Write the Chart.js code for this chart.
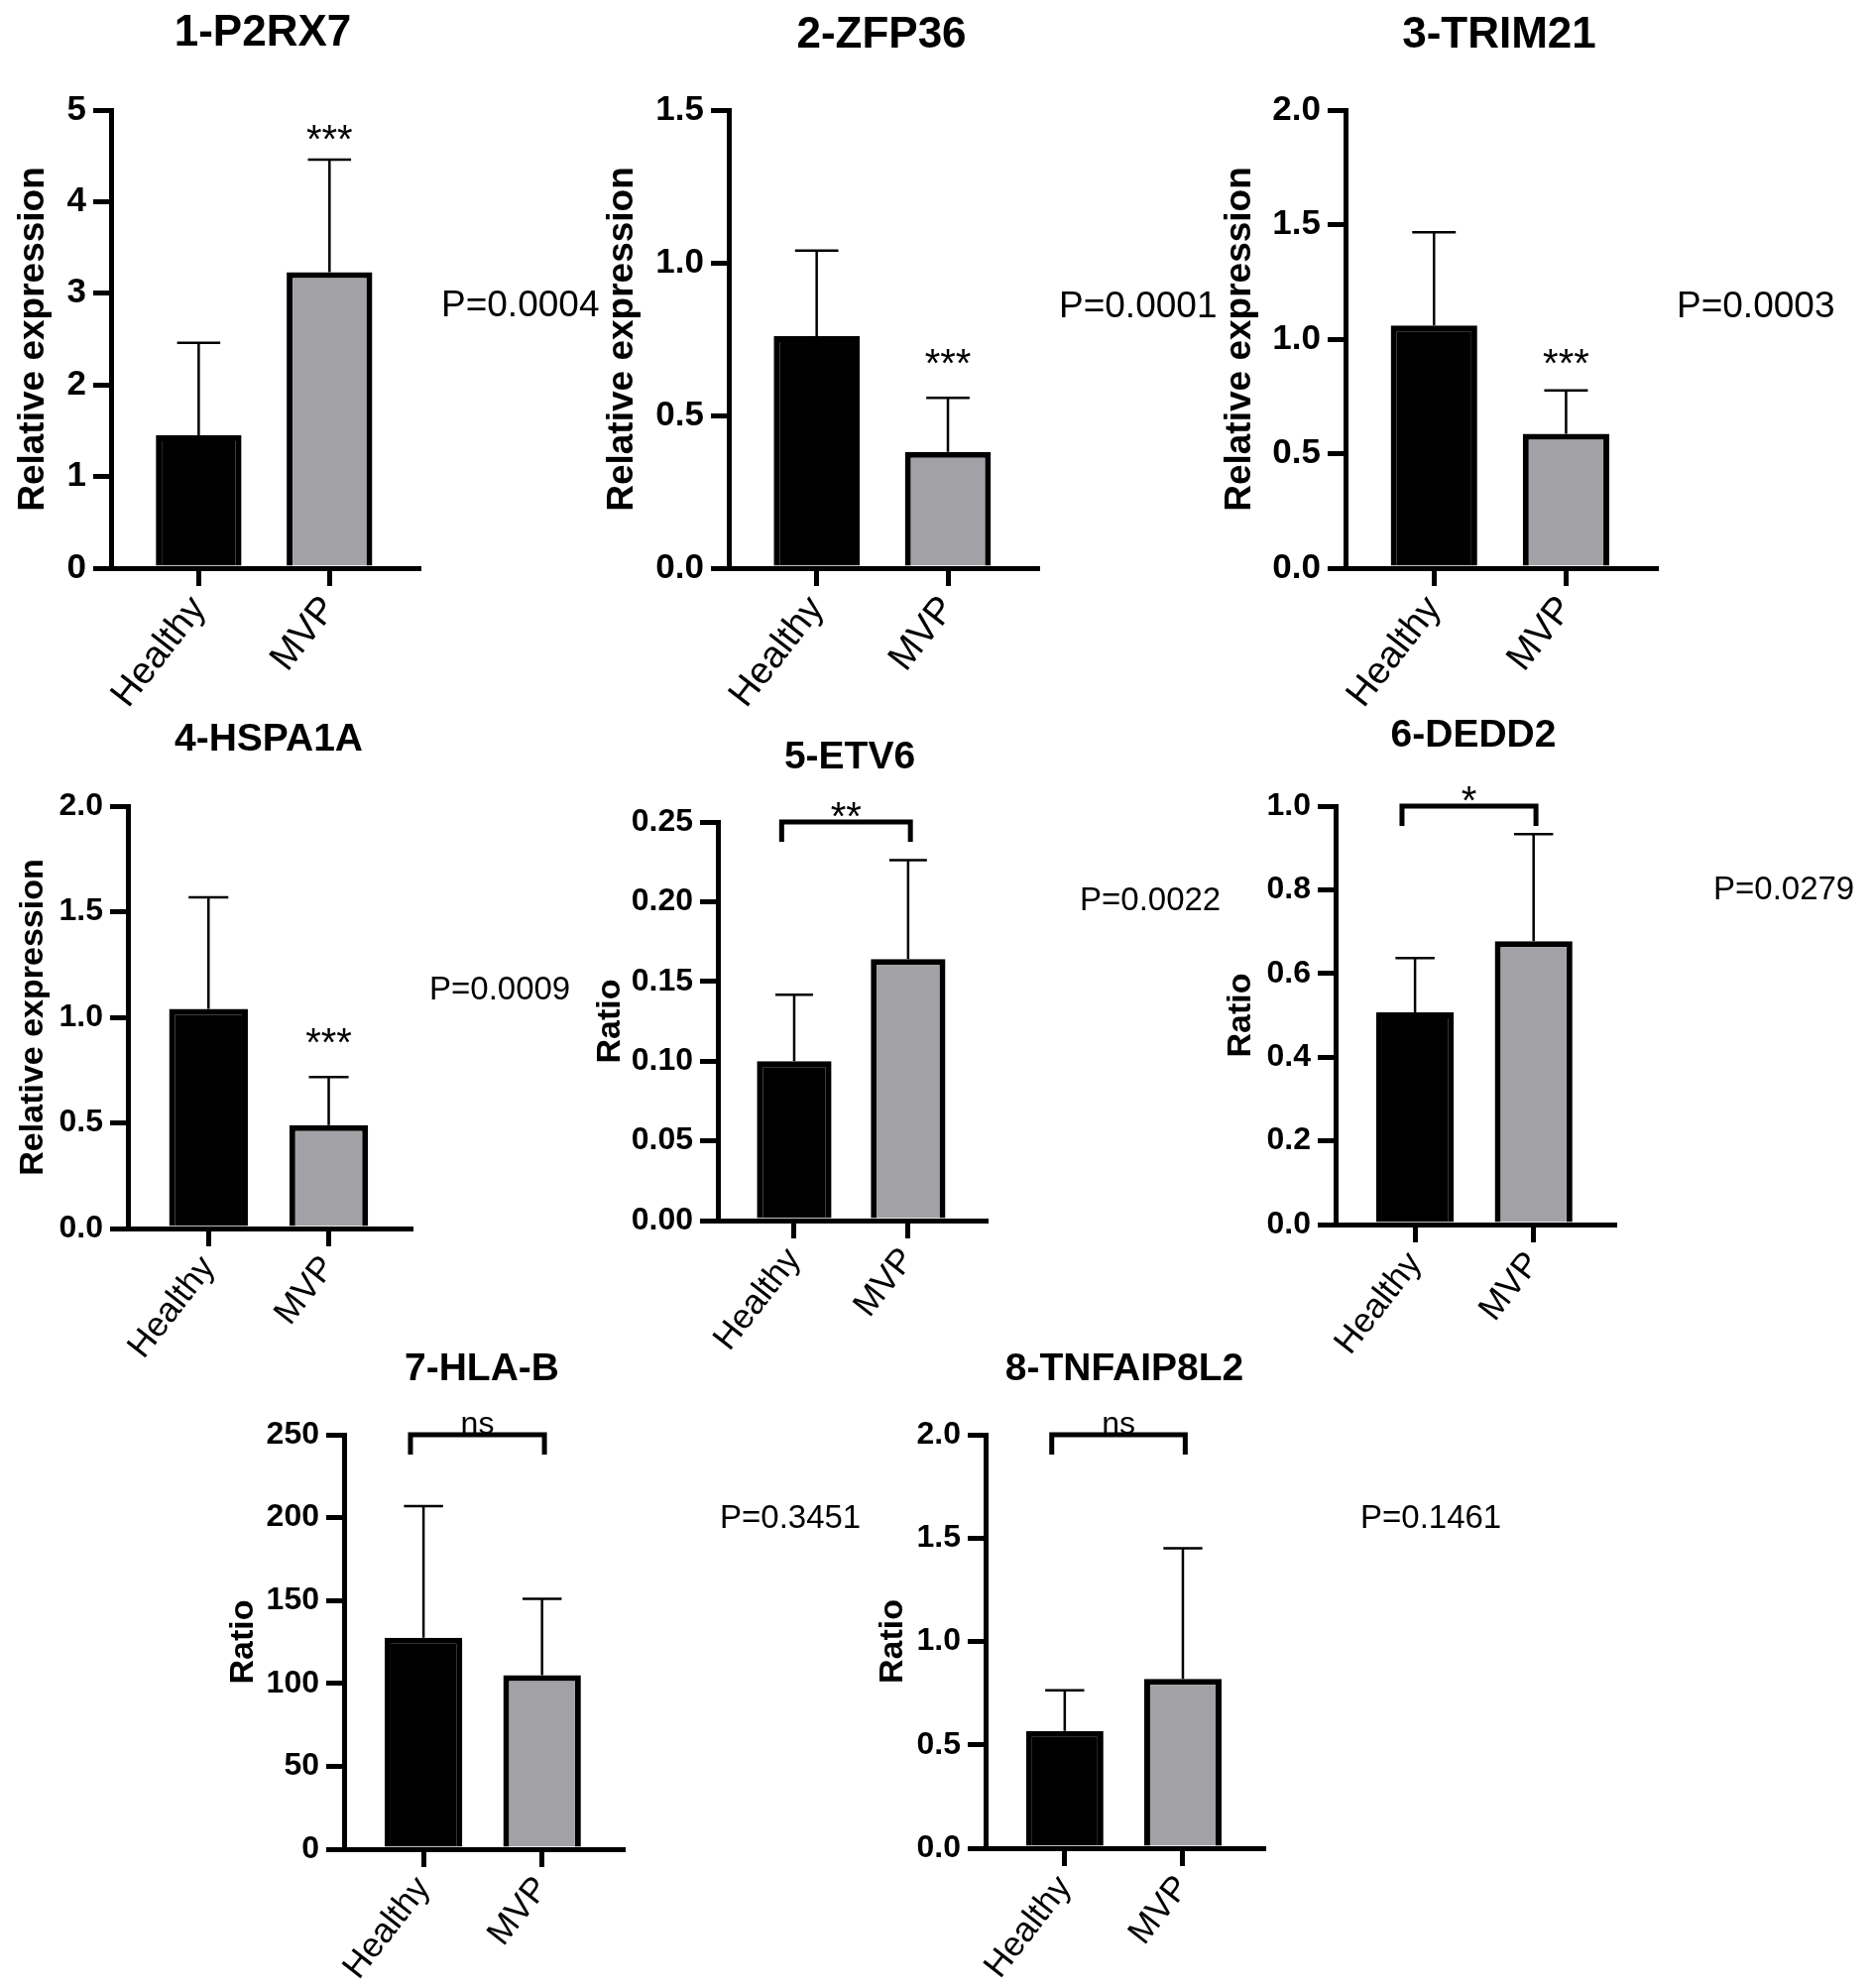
<!DOCTYPE html>
<html>
<head>
<meta charset="utf-8">
<title>Healthy vs MVP - expression of 8 genes</title>
<script src="https://cdn.jsdelivr.net/npm/chart.js@4.4.1/dist/chart.umd.min.js"></script>
<style>
  html, body { margin: 0; padding: 0; background: #fff; }
  #figure { position: relative; width: 1890px; height: 2005px; overflow: hidden; }
  #figure canvas { position: absolute; }
</style>
</head>
<body>
<div id="figure"></div>
<script>
// ---- data ----
const groups = ['Healthy', 'MVP'];
const genes = ['1-P2RX7', '2-ZFP36', '3-TRIM21', '4-HSPA1A', '5-ETV6', '6-DEDD2', '7-HLA-B', '8-TNFAIP8L2'];
const yTitles = ['Relative expression', 'Relative expression', 'Relative expression', 'Relative expression',
                 'Ratio', 'Ratio', 'Ratio', 'Ratio'];

// bar heights (mean) and top of the error bar for each group
const healthyMean  = [1.45, 0.76, 1.06, 1.04, 0.100, 0.507, 127.5, 0.567];
const healthyUpper = [2.46, 1.04, 1.466, 1.568, 0.1417, 0.637, 207, 0.764];
const mvpMean      = [3.23, 0.381, 0.587, 0.489, 0.164, 0.677, 105, 0.819];
const mvpUpper     = [4.46, 0.558, 0.776, 0.717, 0.226, 0.933, 151, 1.451];

// tick labels of each y axis
const yTickLabels = [
  ['0', '1', '2', '3', '4', '5'],
  ['0.0', '0.5', '1.0', '1.5'],
  ['0.0', '0.5', '1.0', '1.5', '2.0'],
  ['0.0', '0.5', '1.0', '1.5', '2.0'],
  ['0.00', '0.05', '0.10', '0.15', '0.20', '0.25'],
  ['0.0', '0.2', '0.4', '0.6', '0.8', '1.0'],
  ['0', '50', '100', '150', '200', '250'],
  ['0.0', '0.5', '1.0', '1.5', '2.0'],
];

const pValues = ['P=0.0004', 'P=0.0001', 'P=0.0003', 'P=0.0009', 'P=0.0022', 'P=0.0279', 'P=0.3451', 'P=0.1461'];
const sigLabels = ['***', '***', '***', '***', '**', '*', 'ns', 'ns'];
const sigBracket = [false, false, false, false, true, true, true, true];
// y value of the star centre (no bracket) or of the bracket line
const sigLevel = [4.77, 0.70, 0.93, 0.92, 0.25, 1.0, 250, 2.0];

// ---- page layout (pixels) ----
const layout = [
  { row: 0, ax: 112,  ar: 422,  at: 111,  az: 573,  tx: 265,  ty: 34,   yx: 34,   px: 445,  py: 319 },
  { row: 0, ax: 735,  ar: 1046, at: 111,  az: 573,  tx: 889,  ty: 36,   yx: 628,  px: 1068, py: 320 },
  { row: 0, ax: 1357, ar: 1670, at: 111,  az: 573,  tx: 1512, ty: 36,   yx: 1251, px: 1691, py: 320 },
  { row: 1, ax: 129,  ar: 414,  at: 813,  az: 1239, tx: 271,  ty: 746,  yx: 33,   px: 433,  py: 1008 },
  { row: 1, ax: 724,  ar: 994,  at: 829,  az: 1231, tx: 857,  ty: 764,  yx: 615,  px: 1089, py: 918 },
  { row: 1, ax: 1347, ar: 1628, at: 813,  az: 1235, tx: 1486, ty: 742,  yx: 1251, px: 1728, py: 907 },
  { row: 2, ax: 347,  ar: 628,  at: 1447, az: 1865, tx: 486,  ty: 1381, yx: 245,  px: 726,  py: 1541 },
  { row: 2, ax: 994,  ar: 1274, at: 1447, az: 1864, tx: 1134, ty: 1381, yx: 900,  px: 1372, py: 1541 },
];

const FONT = "'Liberation Sans', Arial, Helvetica, sans-serif";
const bigText   = { title: 44, tick: 35, yTitle: 37, p: 37, xLabel: 38 };
const smallText = { title: 39, tick: 32, yTitle: 34, p: 33, xLabel: 35 };
const STAR_SIZE = 40;
const NS_SIZE = 32;
const LINE = 5;          // axis / bracket thickness
const X_MIN = 0.33, X_MAX = 2.68;
const MVP_GREY = '#a2a2a6';

function drawPanel(i) {
  const L = layout[i];
  const f = L.row === 0 ? bigText : smallText;
  const cl = Math.round(L.yx - f.yTitle * 1.2 / 2);
  const ct = L.ty - 40;
  const cr = L.px + 210;
  const cb = L.az + 200;

  const canvas = document.createElement('canvas');
  canvas.width = cr - cl;
  canvas.height = cb - ct;
  canvas.style.left = cl + 'px';
  canvas.style.top = ct + 'px';
  document.getElementById('figure').appendChild(canvas);

  const tickVals = yTickLabels[i].map(Number);
  const means = [healthyMean[i], mvpMean[i]];
  const uppers = [healthyUpper[i], mvpUpper[i]];

  // error bars, titles, p-values and significance marks
  const extras = {
    id: 'extras',
    afterDatasetsDraw(chart) {
      const { ctx } = chart;
      const x = chart.scales.x, y = chart.scales.y;
      ctx.save();
      ctx.strokeStyle = '#000';
      ctx.fillStyle = '#000';

      // upper error bars
      ctx.lineWidth = 2.5;
      means.forEach((m, k) => {
        const cx = x.getPixelForValue(k + 1);
        const y0 = y.getPixelForValue(m);
        const y1 = y.getPixelForValue(uppers[k]);
        ctx.beginPath();
        ctx.moveTo(cx, y0);
        ctx.lineTo(cx, y1);
        ctx.moveTo(x.getPixelForValue(k + 1 - 0.165), y1);
        ctx.lineTo(x.getPixelForValue(k + 1 + 0.165), y1);
        ctx.stroke();
      });

      // significance
      ctx.textAlign = 'center';
      ctx.textBaseline = 'alphabetic';
      if (!sigBracket[i]) {
        const cy = y.getPixelForValue(sigLevel[i]);
        ctx.font = STAR_SIZE + 'px ' + FONT;
        ctx.fillText(sigLabels[i], x.getPixelForValue(2), cy + 0.556 * STAR_SIZE);
      } else {
        const by = y.getPixelForValue(sigLevel[i]);
        const bx1 = x.getPixelForValue(0.89), bx2 = x.getPixelForValue(2.02);
        ctx.lineWidth = LINE;
        ctx.lineJoin = 'miter';
        ctx.beginPath();
        ctx.moveTo(bx1, by + 20);
        ctx.lineTo(bx1, by);
        ctx.lineTo(bx2, by);
        ctx.lineTo(bx2, by + 20);
        ctx.stroke();
        const mx = (bx1 + bx2) / 2;
        if (sigLabels[i] === 'ns') {
          ctx.font = NS_SIZE + 'px ' + FONT;
          ctx.fillText('ns', mx, by - 1);
        } else {
          ctx.font = STAR_SIZE + 'px ' + FONT;
          ctx.fillText(sigLabels[i], mx, by - 14 + 0.556 * STAR_SIZE);
        }
      }

      // panel title
      ctx.font = 'bold ' + f.title + 'px ' + FONT;
      ctx.textBaseline = 'middle';
      ctx.fillText(genes[i], L.tx - cl, L.ty - ct);

      // p-value
      ctx.font = f.p + 'px ' + FONT;
      ctx.textAlign = 'left';
      ctx.textBaseline = 'alphabetic';
      ctx.fillText(pValues[i], L.px - cl, L.py - ct);
      ctx.restore();
    }
  };

  new Chart(canvas, {
    type: 'bar',
    data: {
      datasets: [{
        data: means.map((m, k) => ({ x: k + 1, y: m })),
        backgroundColor: ['#000000', MVP_GREY],
        borderColor: '#000000',
        borderWidth: 6,
        borderSkipped: 'bottom',
        categoryPercentage: 1,
        barPercentage: 0.655
      }]
    },
    options: {
      responsive: false,
      animation: false,
      events: [],
      layout: { padding: { left: 0, top: L.at - ct, right: cr - L.ar, bottom: 0 } },
      plugins: { legend: { display: false }, tooltip: { enabled: false } },
      scales: {
        x: {
          type: 'linear',
          offset: false,
          min: X_MIN,
          max: X_MAX,
          afterBuildTicks: s => { s.ticks = groups.map((g, k) => ({ value: k + 1 })); },
          afterFit: s => { s.height = cb - L.az; },
          ticks: {
            autoSkip: false,
            minRotation: 52,
            maxRotation: 52,
            padding: 2,
            color: '#000',
            font: { family: FONT, size: f.xLabel },
            callback: (v, k) => groups[k]
          },
          grid: { offset: false, drawOnChartArea: false, drawTicks: true, tickLength: 18, lineWidth: LINE, color: '#000' },
          border: { display: true, width: LINE, color: '#000' }
        },
        y: {
          min: 0,
          max: tickVals[tickVals.length - 1],
          afterBuildTicks: s => { s.ticks = tickVals.map(v => ({ value: v })); },
          afterFit: s => { s.width = L.ax - cl; },
          ticks: {
            padding: 7,
            color: '#000',
            font: { family: FONT, size: f.tick, weight: 'bold' },
            callback: (v, k) => yTickLabels[i][k]
          },
          grid: { drawOnChartArea: false, drawTicks: true, tickLength: 18, lineWidth: LINE, color: '#000' },
          border: { display: true, width: LINE, color: '#000' },
          title: {
            display: true,
            text: yTitles[i],
            color: '#000',
            padding: { top: 0, bottom: 0 },
            font: { family: FONT, size: f.yTitle, weight: 'bold' }
          }
        }
      }
    },
    plugins: [extras]
  });
}

genes.forEach((g, i) => drawPanel(i));
</script>
</body>
</html>
